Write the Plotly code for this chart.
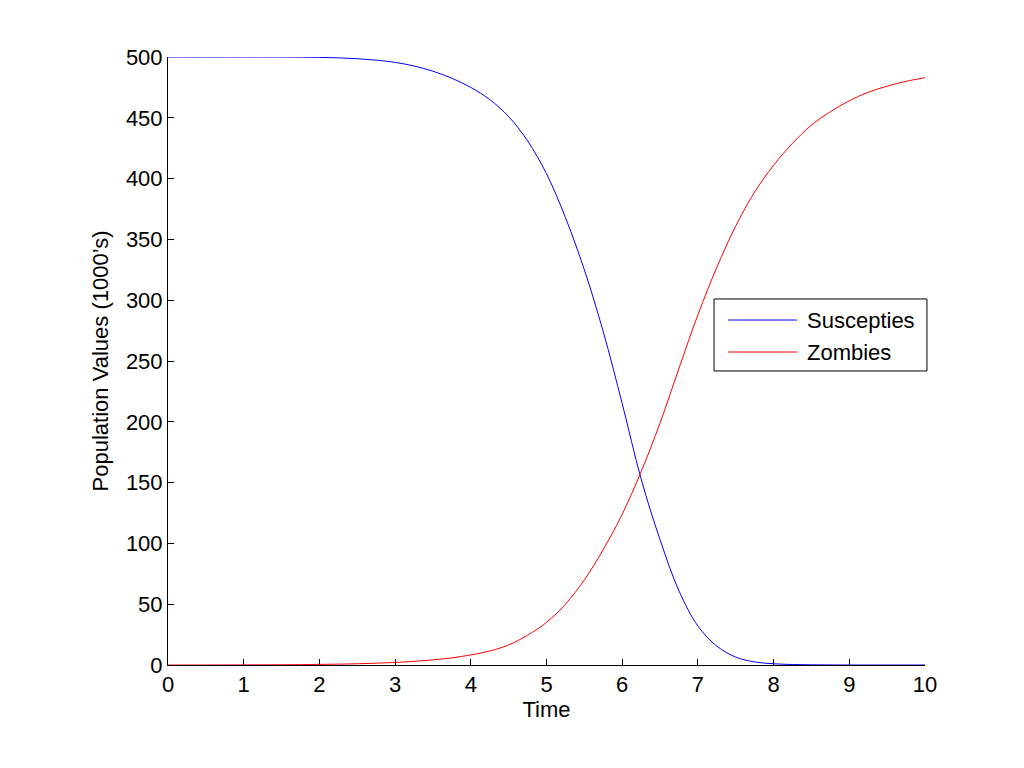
import plotly.graph_objects as go

time = [0, 0.25, 0.5, 0.75, 1, 1.25, 1.5, 1.75, 2, 2.25, 2.5, 2.75, 3, 3.25, 3.5, 3.75,
        4, 4.25, 4.5, 4.75, 5, 5.25, 5.5, 5.75, 6, 6.25, 6.5, 6.75, 7, 7.25, 7.5, 7.75,
        8, 8.25, 8.5, 8.75, 9, 9.25, 9.5, 9.75, 10]
susceptibles = [500, 500, 500, 500, 500, 500, 500, 499.9, 499.7, 499.3, 498.6, 497.4, 495.6, 492.6,
                488.3, 482.5, 475, 465, 451, 431, 404, 368, 325, 274, 215, 153, 103, 61, 32, 15.5,
                6.5, 2.5, 1, 0.4, 0.15, 0.05, 0, 0, 0, 0, 0]
zombies = [0, 0, 0, 0.05, 0.1, 0.15, 0.2, 0.3, 0.5, 0.7, 1.0, 1.5, 2.1, 3.0, 4.2, 5.9,
           8.3, 11.5, 16.5, 24.5, 35, 50, 70, 95, 124, 159, 199, 244, 288, 327, 361, 389,
           411, 429, 444, 455, 464, 471, 476, 480, 483]

series_names = ["Suscepties", "Zombies"]
series_colors = ["#0000ff", "#ff0000"]

x_ticks = list(range(0, 11))
y_ticks = list(range(0, 501, 50))

font_family = "Liberation Sans, Arial, sans-serif"

fig = go.Figure()
for name, vals, col in zip(series_names, [susceptibles, zombies], series_colors):
    fig.add_trace(go.Scatter(x=time, y=vals, mode="lines", name=name, showlegend=False,
                             line=dict(color=col, width=1, shape="spline", smoothing=1.0)))

axis_common = dict(showgrid=False, zeroline=False, showline=True, linecolor="black", linewidth=1,
                   ticks="inside", ticklen=6, tickcolor="black", tickwidth=1,
                   tickfont=dict(family=font_family, size=22, color="black"))

# manual legend box (paper coordinates) to mimic the MATLAB legend
legend_box = dict(x0=0.7213, x1=1.0026, y0=0.4836, y1=0.6020)
legend_rows_y = [0.5674, 0.5148]
legend_line_x = [0.7398, 0.8309]
legend_text_x = 0.8415

shapes = [dict(type="rect", xref="paper", yref="paper", **legend_box,
               line=dict(color="black", width=1), fillcolor="white", layer="above")]
annotations = []
for name, col, yy in zip(series_names, series_colors, legend_rows_y):
    shapes.append(dict(type="line", xref="paper", yref="paper", x0=legend_line_x[0], x1=legend_line_x[1],
                       y0=yy, y1=yy, line=dict(color=col, width=1), layer="above"))
    annotations.append(dict(xref="paper", yref="paper", x=legend_text_x, y=yy, text=name,
                            showarrow=False, xanchor="left", yanchor="middle",
                            font=dict(family=font_family, size=22, color="black")))

fig.update_layout(
    width=1024, height=768,
    margin=dict(l=160, r=107, t=49, b=111),
    paper_bgcolor="white", plot_bgcolor="white",
    font=dict(family=font_family, color="black"),
    xaxis=dict(range=[0, 10], tickvals=x_ticks, title=dict(text="Time", font=dict(size=22), standoff=4),
               **axis_common),
    yaxis=dict(range=[0, 500], tickvals=y_ticks,
               title=dict(text="Population Values (1000’s)", font=dict(size=22), standoff=11),
               **axis_common),
    shapes=shapes,
    annotations=annotations,
    showlegend=False,
)

fig.write_html("out.html")
